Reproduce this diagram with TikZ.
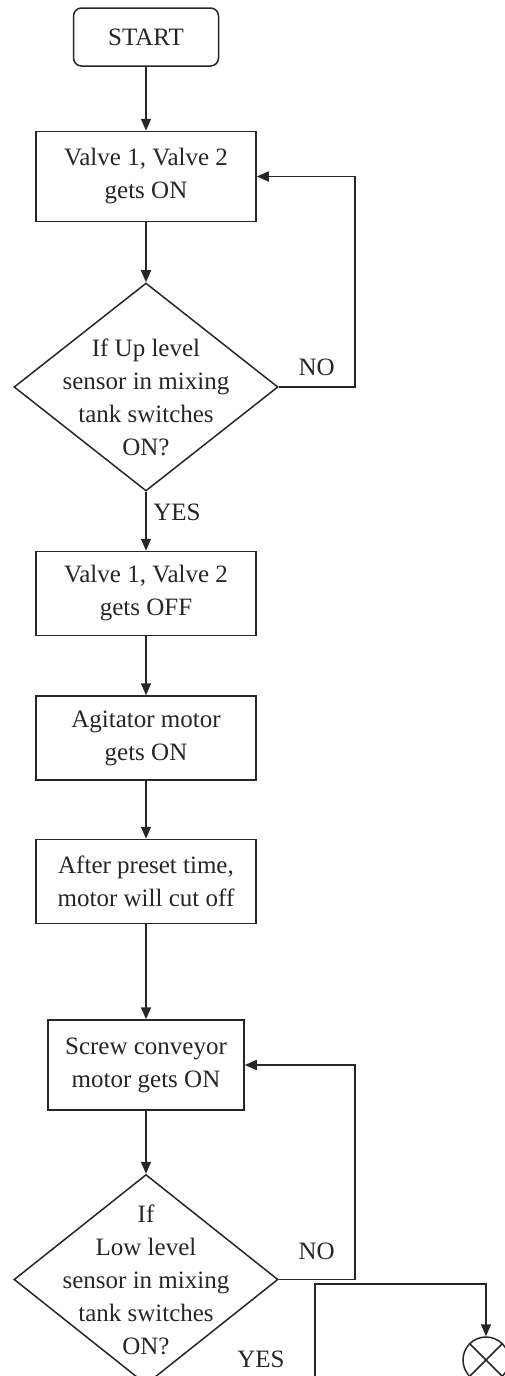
\documentclass[tikz,border=0pt]{standalone}
\usepackage{fontspec}
\setmainfont{Liberation Serif}
\usetikzlibrary{positioning,shapes.geometric,arrows.meta}

\begin{document}
\begin{tikzpicture}[node distance={30pt}, line width=0.75pt, color=black!85,
		font=\fontsize{12.5pt}{16.5pt}\selectfont, >={Triangle[width=5pt,length=6pt]},
		term/.style = {draw, rounded corners=4pt, minimum width=72.5pt, minimum height=29pt},
		box/.style = {draw, align=center, minimum width=110pt, minimum height=42pt},
		dec/.style = {draw, diamond, inner sep=0pt, minimum width=132pt, minimum height=104pt}]
		\useasboundingbox (0,0) rectangle (252pt,-688pt);
		\node[term] (1) at (73pt,-18.5pt) {START};
		\node[box] (2) [below=32pt of 1] [minimum height=45pt] {Valve 1, Valve 2\\gets ON};
		\node[dec] (3) [below=30pt of 2] [label={[align=center, yshift=-5pt]center:{If Up level\\sensor in mixing\\tank switches\\ON?}}] {};
		\node[box] (4) [below=29.5pt of 3] {Valve 1, Valve 2\\gets OFF};
		\node[box] (5) [below=29.5pt of 4] {Agitator motor\\gets ON};
		\node[box] (6) [below=29pt of 5] {After preset time,\\motor will cut off};
		\node[box] (7) [below=47.5pt of 6] [minimum width=98pt, minimum height=45pt] {Screw conveyor\\motor gets ON};
		\node[dec] (8) [below=31.5pt of 7] [minimum height=105pt] [label={[align=center]center:{If\\Low level\\sensor in mixing\\tank switches\\ON?}}] {};
		\node[draw, circle, inner sep=0pt, minimum size=23pt] (9) at (243pt,-680pt) {};
		\coordinate (k) at (157.5pt,-642pt);
		\path[->] (1) edge (2)
			(2) edge (3)
			(3) edge node[right, pos=0.35] {YES} (4)
			(4) edge (5)
			(5) edge (6)
			(6) edge (7)
			(7) edge (8);
		\draw[->] (3.east) -- node[above, yshift=2pt] {NO} ++(38pt,0) |- (2);
		\draw[->] (8.east) -- node[above, yshift=6pt] {NO} ++(38pt,0) |- (7);
		\draw[->] (8.south) -| node[above, pos=0.34, yshift=5pt] {YES} (k) -| (9);
		\draw (9.north west) -- (9.south east)
			(9.north east) -- (9.south west);
	\end{tikzpicture}
\end{document}
